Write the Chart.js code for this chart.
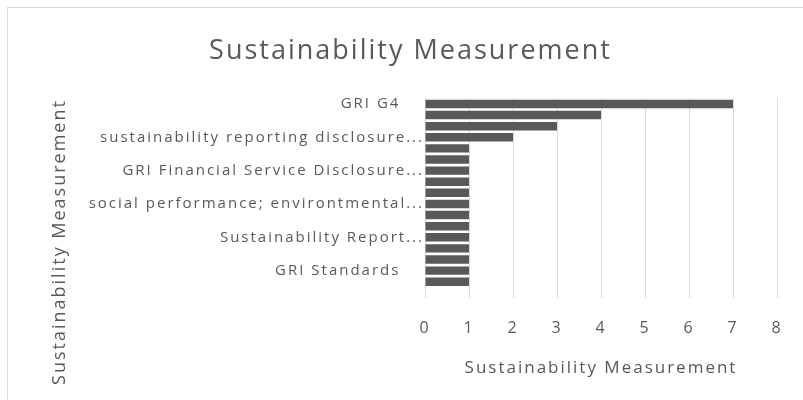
<!DOCTYPE html>
<html lang="en">
<head>
  <meta charset="UTF-8">
  <title>Sustainability Measurement</title>
  <script src="https://cdn.jsdelivr.net/npm/chart.js"></script>
  <style>
    body { margin: 0; background: #fff; }
    #frame {
      position: absolute; left: 7px; top: 7px;
      border-left: 1px solid #d9d9d9; border-top: 1px solid #d9d9d9;
    }
  </style>
</head>
<body>
  <div id="frame"><canvas id="measureChart" width="795" height="392"></canvas></div>

  <script>
    // only every third category name is shown on the axis, the others are unreadable
    const categories = [
      'GRI G4    ', '', '',
      'sustainability reporting disclosure...', '', '',
      'GRI Financial Service Disclosure...', '', '',
      'social performance; environtmental...', '', '',
      'Sustainability Report...', '', '',
      'GRI Standards    ', '', ''
    ];
    const counts = [7, 4, 3, 2, 1, 1, 1, 1, 1, 1, 1, 1, 1, 1, 1, 1, 1, null];
    const xTicks = [0, 1, 2, 3, 4, 5, 6, 7, 8];

    const chartTitle = 'Sustainability Measurement';
    const axisTitle = 'Sustainability Measurement';
    const textColor = '#595959';

    // Excel-like wide letter spacing for every text drawn on the canvas
    const spacing = {
      id: 'spacing',
      beforeUpdate(chart) { chart.ctx.letterSpacing = '2px'; },
      beforeLayout(chart) { chart.ctx.letterSpacing = '2px'; },
      beforeDraw(chart) { chart.ctx.letterSpacing = '2px'; },
      afterDraw(chart) {
        // vertical axis title, centred on plot + x-axis block like Excel does
        const ctx = chart.ctx;
        ctx.save();
        ctx.letterSpacing = '2px';
        ctx.font = '18px "Open Sans"';
        ctx.fillStyle = textColor;
        ctx.textAlign = 'center';
        ctx.textBaseline = 'middle';
        ctx.translate(52, 234);
        ctx.rotate(-Math.PI / 2);
        ctx.fillText(axisTitle, 0, 0);
        ctx.restore();
      }
    };

    const ctx = document.getElementById('measureChart').getContext('2d');
    const measureChart = new Chart(ctx, {
      type: 'bar',
      data: {
        labels: categories,
        datasets: [{
          label: 'Sustainability Measurement',
          data: counts,
          backgroundColor: '#595959',
          borderWidth: 0,
          barPercentage: 0.76,
          categoryPercentage: 1
        }]
      },
      options: {
        indexAxis: 'y',
        responsive: false,
        animation: false,
        layout: { padding: { left: 36, right: 26, top: 0, bottom: 22 } },
        plugins: {
          legend: { display: false },
          tooltip: { enabled: false },
          title: {
            display: true,
            text: chartTitle,
            color: textColor,
            font: { family: 'Open Sans', size: 27, weight: 'normal' },
            padding: { top: 27, bottom: 31 }
          }
        },
        scales: {
          x: {
            min: 0,
            max: 8,
            afterBuildTicks: s => { s.ticks = xTicks.map(v => ({ value: v })); },
            grid: { color: '#d9d9d9', drawTicks: false },
            border: { display: false },
            ticks: {
              color: textColor,
              padding: 20,
              font: { family: 'Open Sans', size: 16 }
            },
            title: {
              display: true,
              text: axisTitle,
              color: textColor,
              font: { family: 'Open Sans', size: 17 },
              padding: { top: 0, bottom: 0 }
            }
          },
          y: {
            afterFit: s => { s.width = 381; },
            grid: { display: false, drawTicks: false },
            border: { display: false },
            ticks: {
              autoSkip: false,
              color: textColor,
              padding: 1,
              font: { family: 'Open Sans', size: 15 }
            }
          }
        }
      },
      plugins: [spacing]
    });
  </script>
</body>
</html>
